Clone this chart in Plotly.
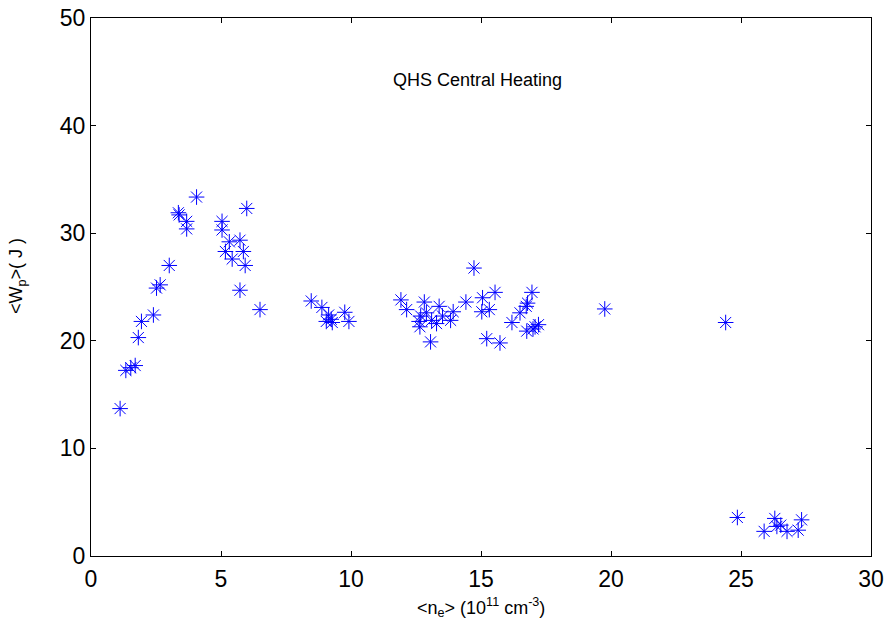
import plotly.graph_objects as go

ne = [4.06, 3.36, 3.39, 3.68, 3.68, 5.99, 5.04, 5.04, 5.32, 5.73, 5.17, 5.86, 5.43, 5.93,
      5.73, 6.5, 3.01, 2.66, 2.52, 2.4, 1.94, 1.82, 1.70, 1.53, 1.34, 1.12,
      8.47, 8.88, 9.14, 9.24, 9.05, 9.28, 9.76, 9.92,
      11.92, 12.14, 12.82, 12.68, 12.62, 12.65, 12.9, 13.1, 13.39, 13.29, 13.52, 13.93, 13.83,
      13.06, 14.42, 15.06, 15.54, 15.03, 15.32, 15.22, 15.73, 16.19, 16.5, 16.74, 16.79, 16.96,
      16.76, 17.08, 17.21, 17.0, 14.73,
      19.76, 24.41,
      24.86, 25.89, 26.3, 26.38, 26.53, 26.77, 27.2, 27.33]
wp = [33.36, 31.9, 31.7, 31.1, 30.4, 32.3, 31.1, 30.3, 29.2, 29.35, 28.3, 28.3, 27.6, 27.0,
      24.7, 22.9, 27.0, 25.2, 24.9, 22.4, 21.8, 20.3, 17.7, 17.5, 17.25, 13.7,
      23.7, 23.1, 22.4, 22.0, 21.8, 21.7, 22.65, 21.8,
      23.8, 22.9, 23.6, 22.3, 21.8, 21.3, 22.6, 21.9, 23.2, 21.6, 22.3, 22.7, 21.9,
      19.9, 23.6, 24.0, 24.5, 22.7, 22.9, 20.2, 19.8, 21.7, 22.6, 23.2, 23.5, 24.5,
      20.9, 21.3, 21.5, 21.1, 26.76,
      22.96, 21.7,
      3.58, 2.29, 3.49, 2.75, 2.87, 2.29, 2.4, 3.36]

x_ticks = [0, 5, 10, 15, 20, 25, 30]
y_ticks = [0, 10, 20, 30, 40, 50]

FONT = "Liberation Sans, Arial"

fig = go.Figure()
fig.add_trace(go.Scatter(
    x=ne, y=wp, mode="markers",
    marker=dict(symbol="asterisk-open", size=13, color="#0000ff",
                line=dict(color="#0000ff", width=1)),
    showlegend=False))

axis_common = dict(showgrid=False, zeroline=False, showline=True, linecolor="black",
                   linewidth=1, mirror="ticks", ticks="inside", ticklen=5,
                   tickcolor="black", automargin=False,
                   tickfont=dict(family=FONT, size=23, color="black"))

fig.update_xaxes(range=[0, 30], tickvals=x_ticks, ticklabelstandoff=2, **axis_common)
fig.update_yaxes(range=[0, 50], tickvals=y_ticks, **axis_common)

fig.add_annotation(x=14.88, y=44.2, xref="x", yref="y", text="QHS Central Heating",
                   showarrow=False,
                   font=dict(family=FONT, size=18, color="black"))

fig.add_annotation(x=0.5, y=-0.095, xref="paper", yref="paper",
                   xanchor="center", yanchor="middle", showarrow=False,
                   text="<n<sub>e</sub>> (10<sup>11</sup> cm<sup>-3</sup>)",
                   font=dict(family=FONT, size=18, color="black"))

fig.add_annotation(x=-0.094, y=0.52, xref="paper", yref="paper",
                   xanchor="center", yanchor="middle", showarrow=False, textangle=-90,
                   text="<W<sub>p</sub>>( J )",
                   font=dict(family=FONT, size=18, color="black"))

fig.update_layout(width=888, height=625, plot_bgcolor="white", paper_bgcolor="white",
                  margin=dict(l=91, r=17, t=18, b=69))

fig.write_html("out.html", config={"displayModeBar": False},
               post_script="document.body.style.margin='0';document.body.style.padding='0';")
